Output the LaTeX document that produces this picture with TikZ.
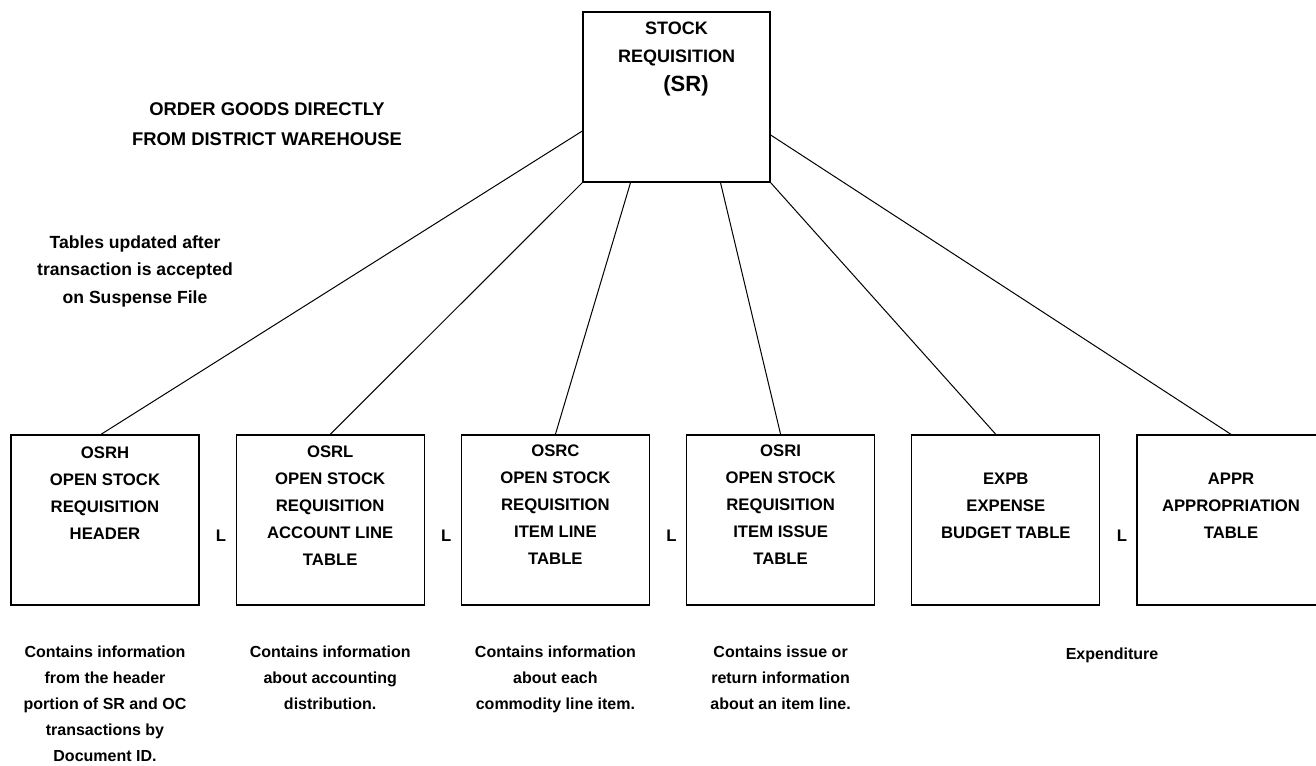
\documentclass[tikz,border=0pt]{standalone}
\usepackage{fontspec}
\setmainfont{Liberation Sans}
\usetikzlibrary{positioning}
\tikzset{
tablebox/.style={draw,line width=.65pt,minimum width=94pt,minimum height=85pt,inner sep=0pt},
boxtext/.style={anchor=north,align=center,inner sep=0pt,font=\bfseries\fontsize{8.35}{13.5}\selectfont},
desc/.style={align=center,inner sep=0pt,font=\bfseries\fontsize{8}{13}\selectfont},
note/.style={align=center,inner sep=0pt,font=\bfseries\fontsize{9.2}{15}\selectfont},
link/.style={anchor=east,inner sep=0pt,font=\bfseries\fontsize{8.35}{10}\selectfont},
conn/.style={line width=.5pt}
}

\begin{document}
\begin{tikzpicture}[x=.5pt,y=-.5pt,node distance=20pt and 17.95pt]
\path[use as bounding box,clip] (0,0) rectangle (1316,765);

% stock requisition
\node[tablebox,minimum width=93.5pt] (sr) at (676.5,97) {};
\node[boxtext,font=\bfseries\fontsize{9}{14}\selectfont] (srtitle) at ([yshift=-5pt]sr.north) {STOCK\\REQUISITION};
\node[anchor=base,inner sep=0pt,font=\bfseries\fontsize{11}{13}\selectfont] (srabbr) at ([xshift=4.75pt,yshift=-40pt]sr.north) {(SR)};

\node[note,anchor=north] (direct) at (267,102) {ORDER GOODS DIRECTLY\\FROM DISTRICT WAREHOUSE};
\node[note,anchor=north,font=\bfseries\fontsize{8.8}{13.75}\selectfont] (updated) at (135,235) {Tables updated after\\transaction is accepted\\on Suspense File};

% tables
\node[tablebox] (osrh) at (105,520) {};
\node[tablebox,right=of osrh] (osrl) {};
\node[tablebox,right=of osrl] (osrc) {};
\node[tablebox,right=of osrc] (osri) {};
\node[tablebox,right=of osri] (expb) {};
\node[tablebox,right=of expb] (appr) {};

\node[boxtext] (osrhtext) at ([yshift=-6pt]osrh.north) {OSRH\\OPEN STOCK\\REQUISITION\\HEADER};
\node[boxtext] (osrltext) at ([yshift=-5.5pt]osrl.north) {OSRL\\OPEN STOCK\\REQUISITION\\ACCOUNT LINE\\TABLE};
\node[boxtext] (osrctext) at ([yshift=-5pt]osrc.north) {OSRC\\OPEN STOCK\\REQUISITION\\ITEM LINE\\TABLE};
\node[boxtext] (osritext) at ([yshift=-5pt]osri.north) {OSRI\\OPEN STOCK\\REQUISITION\\ITEM ISSUE\\TABLE};
\node[boxtext] (expbtext) at ([yshift=-19pt]expb.north) {EXPB\\EXPENSE\\BUDGET TABLE};
\node[boxtext] (apprtext) at ([yshift=-19pt]appr.north) {APPR\\APPROPRIATION\\TABLE};

\node[link] (linkosrl) at ([xshift=-4.5pt,yshift=-8pt]osrl.west) {L};
\node[link] (linkosrc) at ([xshift=-4.5pt,yshift=-8pt]osrc.west) {L};
\node[link] (linkosri) at ([xshift=-4.5pt,yshift=-8pt]osri.west) {L};
\node[link] (linkappr) at ([xshift=-4.5pt,yshift=-8pt]appr.west) {L};

% descriptions
\node[desc,below=of osrh] (osrhdesc) {Contains information\\from the header\\portion of SR and OC\\transactions by\\Document ID.};
\node[desc,below=of osrl] (osrldesc) {Contains information\\about accounting\\distribution.};
\node[desc,below=of osrc] (osrcdesc) {Contains information\\about each\\commodity line item.};
\node[desc,below=of osri] (osridesc) {Contains issue or\\return information\\about an item line.};
\node[desc,anchor=north] (expdesc) at (1112,647) {Expenditure};

\draw[conn] ([yshift=-17pt]sr.west) -- ([xshift=-2pt]osrh.north);
\draw[conn] (sr.south west) -- (osrl.north);
\draw[conn] ([xshift=-23pt]sr.south) -- (osrc.north);
\draw[conn] ([xshift=22pt]sr.south) -- (osri.north);
\draw[conn] (sr.south east) -- ([xshift=-5pt]expb.north);
\draw[conn] ([yshift=-19pt]sr.east) -- (appr.north);
\end{tikzpicture}
\end{document}
